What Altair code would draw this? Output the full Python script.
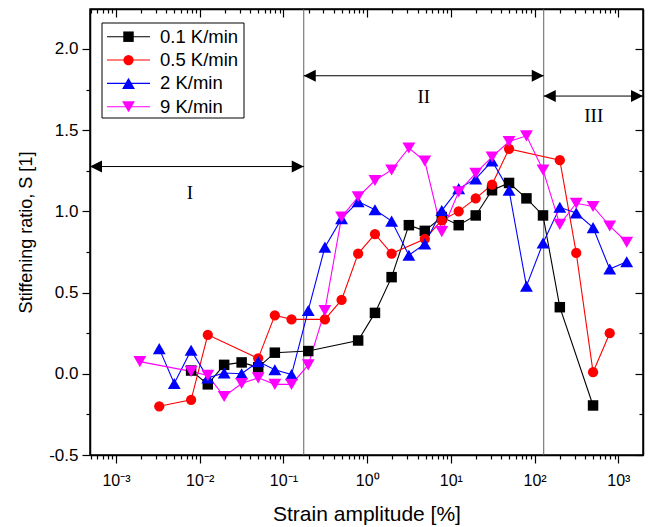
import altair as alt
import pandas as pd

# ---------------- data ----------------
series_names = ["0.1 K/min", "0.5 K/min", "2 K/min", "9 K/min"]
series_colors = ["#000000", "#ff0000", "#0000ff", "#ff00ff"]
series_shapes = ["square", "circle", "triangle-up", "triangle-down"]
series_sizes = [110, 105, 165, 165]

x_01 = [0.0079, 0.0125, 0.0196, 0.0317, 0.050, 0.079, 0.198, 0.781, 1.24, 1.96, 3.15,
        4.88, 7.79, 12.4, 19.8, 31.0, 49.5, 79.9, 126, 200, 499]
s_01 = [0.02, -0.065, 0.055, 0.07, 0.04, 0.13, 0.14, 0.205, 0.375, 0.595, 0.915,
        0.88, 0.965, 0.915, 0.975, 1.13, 1.175, 1.08, 0.975, 0.41, -0.195]

x_05 = [0.00329, 0.0079, 0.0125, 0.050, 0.079, 0.125, 0.313, 0.495, 0.781, 1.24, 1.96,
        4.88, 7.79, 12.4, 19.8, 31.0, 49.5, 200, 314, 499, 789]
s_05 = [-0.20, -0.16, 0.24, 0.095, 0.36, 0.335, 0.335, 0.455, 0.74, 0.86, 0.74,
        0.83, 0.945, 1.0, 1.08, 1.165, 1.385, 1.315, 0.745, 0.01, 0.25]

x_2 = [0.00329, 0.00497, 0.0079, 0.0125, 0.0196, 0.0317, 0.050, 0.079, 0.125, 0.198,
       0.313, 0.495, 0.781, 1.24, 1.96, 3.15, 4.88, 7.79, 12.4, 19.8, 31.0, 49.5, 79.9,
       126, 200, 314, 499, 789, 1259]
s_2 = [0.155, -0.06, 0.145, -0.025, 0.005, 0.0, 0.075, 0.025, -0.005, 0.39,
       0.78, 0.955, 1.06, 1.01, 0.94, 0.73, 0.80, 1.005, 1.14, 1.20, 1.31, 1.13, 0.54,
       0.805, 1.025, 0.99, 0.90, 0.645, 0.69]

x_9 = [0.00193, 0.0079, 0.0125, 0.0196, 0.0317, 0.050, 0.079, 0.125, 0.198, 0.313,
       0.495, 0.781, 1.24, 1.96, 3.15, 4.88, 7.79, 12.4, 19.8, 31.0, 49.5, 79.9, 126,
       200, 314, 499, 789, 1259]
s_9 = [0.075, 0.015, -0.01, -0.14, -0.06, -0.025, -0.065, -0.065, 0.055, 0.39,
       0.965, 1.09, 1.19, 1.255, 1.39, 1.31, 0.875, 1.12, 1.235, 1.335, 1.43, 1.465, 1.255,
       0.92, 1.05, 1.03, 0.91, 0.81]

region_bounds = [0.175, 128.5]
region_names = ["I", "II", "III"]
region_x1 = [4.9e-4, 0.175, 128.5]
region_x2 = [0.175, 128.5, 1970]
region_arrow_s = [1.276, 1.835, 1.71]
region_label_x = [0.00765, 4.75, 508]
region_label_s = [1.113, 1.706, 1.587]

x_domain = [4.9e-4, 1970]
y_domain = [-0.5, 2.246]

# ---------------- tables ----------------
rows = []
for name, xs, ys in zip(series_names, [x_01, x_05, x_2, x_9], [s_01, s_05, s_2, s_9]):
    for xv, yv in zip(xs, ys):
        rows.append({"series": name, "strain": xv, "S": yv})
df = pd.DataFrame(rows)

reg = pd.DataFrame({"name": region_names, "x1": region_x1, "x2": region_x2,
                    "s": region_arrow_s, "lx": region_label_x, "ls": region_label_s})
bounds = pd.DataFrame({"x": region_bounds})
leg = pd.DataFrame({"series": series_names})

W, H = 553, 446
FONT = "Liberation Sans"

x_ticks = []
for k in range(-4, 4):
    for m in range(1, 10):
        v = m * 10.0 ** k
        if x_domain[0] <= v <= x_domain[1]:
            x_ticks.append(v)
y_ticks = [-0.5 + 0.25 * i for i in range(11)]

dec_test = "abs(log(datum.value)/LN10 - round(log(datum.value)/LN10)) < 0.01"
sup = {-3: "10⁻³", -2: "10⁻²", -1: "10⁻¹", 0: "10⁰", 1: "10¹", 2: "10²", 3: "10³"}
lab = "''"
for e, t in sup.items():
    lab = f"(round(log(datum.value)/LN10) == {e} ? '{t}' : {lab})"
x_label_expr = f"{dec_test} ? {lab} : ''"
y_major_test = "abs(datum.value*2 - round(datum.value*2)) < 0.01"
y_label_expr = f"{y_major_test} ? replace(format(datum.value, '.1f'), '\u2212', '-') : ''"

x_tick_size = {"condition": {"test": dec_test, "value": 8}, "value": 4}
y_tick_size = {"condition": {"test": y_major_test, "value": 8}, "value": 4}

common_axis = dict(grid=False, domainColor="black", domainWidth=1.5, tickColor="black",
                   tickWidth=1.2, labelColor="black", labelFont=FONT, titleFont=FONT,
                   titleColor="black", titleFontWeight="normal")

x_axis_main = alt.Axis(orient="bottom", values=x_ticks, labelExpr=x_label_expr,
                       tickSize=x_tick_size, labelFontSize=16, labelPadding=9,
                       labelOverlap=False, labelFlush=False,
                       title="Strain amplitude [%]", titleFontSize=21, titlePadding=15,
                       **common_axis)
x_axis_top = alt.Axis(orient="bottom", offset=-H, values=x_ticks, labels=False,
                      tickSize=x_tick_size, title="", **common_axis)
y_axis_main = alt.Axis(orient="left", values=y_ticks, labelExpr=y_label_expr,
                       tickSize=y_tick_size, labelFontSize=17, labelPadding=4,
                       labelOverlap=False, labelFlush=False,
                       title="Stiffening ratio, S [1]", titleFontSize=18, titlePadding=13,
                       **common_axis)
y_axis_right = alt.Axis(orient="left", offset=-W, values=y_ticks, labels=False,
                        tickSize=y_tick_size, title="", **common_axis)

xscale = alt.Scale(type="log", domain=x_domain, nice=False)
def yscale():
    return alt.Scale(domain=y_domain, nice=False, zero=False)
cscale = alt.Scale(domain=series_names, range=series_colors)
shscale = alt.Scale(domain=series_names, range=series_shapes)
szscale = alt.Scale(type="ordinal", domain=series_names, range=series_sizes)

color_enc = alt.Color("series:N", scale=cscale, legend=None)
shape_enc = alt.Shape("series:N", scale=shscale, legend=None)
size_enc = alt.Size("series:N", scale=szscale, legend=None)

# ---------------- layers ----------------
vlines = alt.Chart(bounds).mark_rule(color="#606060", strokeWidth=1).encode(
    x=alt.X("x:Q", scale=xscale, axis=x_axis_top)
)

lines = alt.Chart(df).mark_line(strokeWidth=1.1).encode(
    x=alt.X("strain:Q", scale=xscale, axis=x_axis_main),
    y=alt.Y("S:Q", scale=yscale(), axis=y_axis_main),
    color=color_enc,
    order=alt.Order("strain:Q"),
)

points = alt.Chart(df).mark_point(filled=True, opacity=1).encode(
    x=alt.X("strain:Q", scale=xscale, axis=None),
    y=alt.Y("S:Q", scale=yscale(), axis=None),
    color=color_enc, shape=shape_enc, size=size_enc,
)

arrow_lines = alt.Chart(reg).mark_rule(color="black", strokeWidth=1).encode(
    x=alt.X("x1:Q", scale=xscale, axis=None),
    x2="x2:Q",
    y=alt.Y("s:Q", scale=yscale(), axis=y_axis_right),
)
head_left = alt.Chart(reg).mark_point(
    shape="M0,0L1,-0.5L1,0.5Z", filled=True, color="black", opacity=1, size=576
).encode(
    x=alt.X("x1:Q", scale=xscale, axis=None),
    y=alt.Y("s:Q", scale=yscale(), axis=None),
)
head_right = alt.Chart(reg).mark_point(
    shape="M0,0L-1,-0.5L-1,0.5Z", filled=True, color="black", opacity=1, size=576
).encode(
    x=alt.X("x2:Q", scale=xscale, axis=None),
    y=alt.Y("s:Q", scale=yscale(), axis=None),
)
region_text = alt.Chart(reg).mark_text(
    font="Liberation Serif", fontSize=19, color="black", align="center", baseline="middle"
).encode(
    x=alt.X("lx:Q", scale=xscale, axis=None),
    y=alt.Y("ls:Q", scale=yscale(), axis=None),
    text="name:N",
)

# legend
leg_y = alt.Y("series:N", scale=alt.Scale(type="point", domain=series_names,
                                           range=[27.7, 97.7], padding=0), axis=None)
leg_box = alt.Chart(pd.DataFrame({"k": [0]})).mark_rect(
    fill="white", stroke="black", strokeWidth=1
).encode(x=alt.value(12), x2=alt.value(154), y=alt.value(14), y2=alt.value(109))
leg_lines = alt.Chart(leg).mark_rule(strokeWidth=1.1).encode(
    x=alt.value(17), x2=alt.value(60), y=leg_y, color=color_enc
)
leg_pts = alt.Chart(leg).mark_point(filled=True, opacity=1).encode(
    x=alt.value(38.5), y=leg_y, color=color_enc, shape=shape_enc, size=size_enc
)
leg_txt = alt.Chart(leg).mark_text(
    align="left", baseline="middle", fontSize=18.5, font=FONT, color="black"
).encode(x=alt.value(70), y=leg_y, text="series:N")

chart = alt.layer(
    vlines, lines, points, arrow_lines, head_left, head_right, region_text,
    leg_box, leg_lines, leg_pts, leg_txt
).resolve_scale(y="independent").resolve_axis(x="independent", y="independent").properties(
    width=W, height=H,
    padding={"left": 90, "top": 9, "right": 6, "bottom": 72},
    autosize=alt.AutoSizeParams(type="none"),
    background="white",
).configure_view(stroke="black", strokeWidth=1.5)

chart.save("out.html", embed_options={"renderer": "svg", "actions": False})
